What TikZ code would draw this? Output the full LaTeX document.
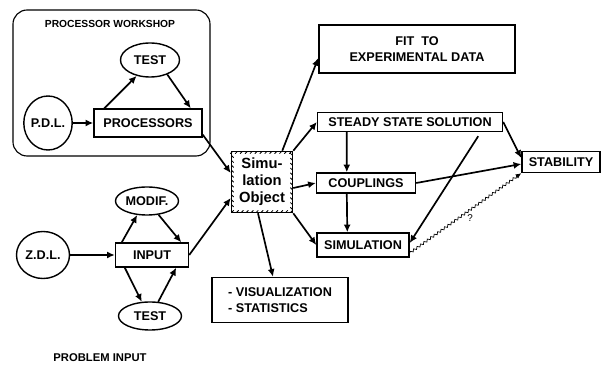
\documentclass[tikz,border=0pt]{standalone}
\usepackage{fontspec}
\setmainfont{Liberation Sans}
\usetikzlibrary{shapes.geometric,decorations.pathmorphing,decorations.pathreplacing,arrows.meta}
\begin{document}
\begin{tikzpicture}
[x=0.025cm, y=-0.025cm, font=\fontsize{9}{11}\selectfont\bfseries,
 box/.style={draw, line width=1pt, inner sep=0pt},
 oval/.style={draw, ellipse, line width=1pt, inner sep=0pt},
 arr/.style={-{Latex[length=5.5pt,width=5pt]}, line width=1.2pt},
 small/.style={font=\fontsize{7.3}{8}\selectfont\bfseries},
 hatchbox/.style={draw, line width=1.1pt, inner sep=0pt, align=center,
  font=\fontsize{10.5}{12}\selectfont\bfseries,
  postaction={decorate, draw, line width=0.6pt,
   decoration={border, segment length=3.5pt, amplitude=2.2pt, angle=45}}}]
\useasboundingbox (0,0) rectangle (605,372);
% processor workshop
\draw [line width=0.8pt, rounded corners=10pt] (13,10) rectangle (210,156);
\node [small] (pwlabel) at (110,24) {PROCESSOR WORKSHOP};
\node [oval, minimum width=1.475cm, minimum height=0.85cm] (testa) at (150,60) {TEST};
\node [oval, minimum width=1.2cm, minimum height=1.35cm] (pdl) at (48,123) {P.D.L.};
\node [box, minimum width=2.7cm, minimum height=0.7cm] (proc) at (148,123) {PROCESSORS};
\draw [arr] (pdl.east) -- (proc.west);
\draw [arr] ([xshift=0.275cm]proc.north west) -- (testa.230);
\draw [arr] (testa.-40) -- ([xshift=-0.3cm]proc.north east);
% problem input
\node [oval, minimum width=1.575cm, minimum height=0.7cm] (modif) at (147,201) {MODIF.};
\node [oval, minimum width=1.325cm, minimum height=1.175cm] (zdl) at (43,255) {Z.D.L.};
\node [box, minimum width=1.825cm, minimum height=0.6cm] (inp) at (152,255) {INPUT};
\node [oval, minimum width=1.575cm, minimum height=0.7cm] (testb) at (150,316) {TEST};
\node [small, font=\fontsize{8}{9}\selectfont\bfseries] (pilabel) at (100,358) {PROBLEM INPUT};
\draw [arr] (zdl.east) -- (inp.west);
\draw [arr] ([xshift=0.175cm]inp.north west) -- (modif.235);
\draw [arr] (modif.-50) -- ([xshift=-0.2cm]inp.north east);
\draw [arr] ([xshift=0.25cm]inp.south west) -- (testb.120);
\draw [arr] (testb.60) -- ([xshift=-0.325cm]inp.south east);
% simulation object
\node [hatchbox, minimum size=1.525cm] (sim) at (262,182) {Simu-\\lation\\Object};
\draw [arr] (proc.-12) -- ([yshift=0.225cm]sim.west);
\draw [arr] (inp.east) -- ([yshift=-0.4cm]sim.west);
% results
\node [box, minimum width=4.9cm, minimum height=1.2cm, align=center] (fit) at (417,49) {FIT\ \ TO\\EXPERIMENTAL DATA};
\node [box, minimum width=4.625cm, minimum height=0.475cm] (steady) at (410,122) {STEADY STATE SOLUTION};
\node [box, minimum width=1.95cm, minimum height=0.525cm] (stab) at (561,162) {STABILITY};
\node [box, minimum width=2.475cm, minimum height=0.5cm] (coup) at (366,183) {COUPLINGS};
\node [box, minimum width=2.3cm, minimum height=0.6cm] (simu) at (363,245) {SIMULATION};
\node [box, minimum width=3.4cm, minimum height=1.125cm, align=left] (vis) at (280,300) {- VISUALIZATION\\- STATISTICS};
\node [font=\fontsize{7}{8}\selectfont] (qmark) at (470,218) {?};
\draw [arr] ([xshift=-0.275cm]sim.north east) -- ([yshift=-0.225cm]fit.west);
\draw [arr] (sim.north east) -- (steady.west);
\draw [arr] ([yshift=-0.15cm]sim.east) -- (coup.west);
\draw [arr] (sim.south east) -- (simu.west);
\draw [arr] ([xshift=-0.1cm]sim.south) -- ([xshift=-0.175cm]vis.north);
\draw [arr] ([xshift=0.75cm]steady.south west) -- ([xshift=0.775cm]coup.north west);
\draw [arr] ([xshift=0.775cm]coup.south west) -- ([xshift=0.775cm]simu.north west);
\draw [arr] (steady.east) -- ([yshift=0.1cm]stab.west);
\draw [arr] (coup.east) -- ([yshift=-0.05cm]stab.west);
\draw [arr] ([xshift=-0.625cm,yshift=-0.1cm]steady.south east) -- ([yshift=0.05cm]simu.east);
\draw [-{Latex[length=4pt,width=3.5pt]}, line width=0.5pt, decorate, decoration={snake, amplitude=0.8pt, segment length=3pt, post length=4pt}] ([yshift=-0.2cm]simu.east) -- (stab.south west);
\end{tikzpicture}
\end{document}
